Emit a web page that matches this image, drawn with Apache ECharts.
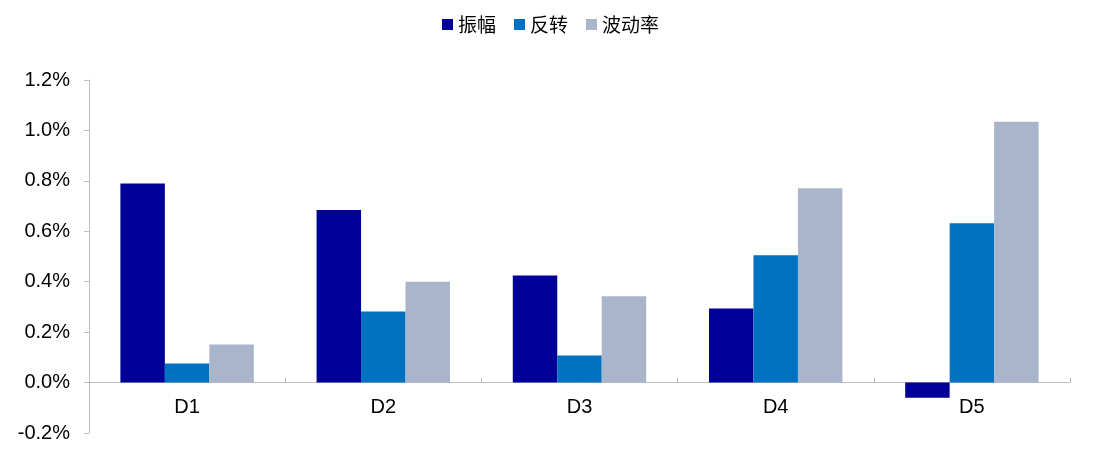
<!DOCTYPE html>
<html><head><meta charset="utf-8">
<script src="https://cdn.jsdelivr.net/npm/echarts@6/dist/echarts.min.js"></script>
<style>html,body{margin:0;padding:0;background:#fff}#c{width:1101px;height:456px}</style>
</head><body><div id="c"></div>
<script>
const categories = ['D1','D2','D3','D4','D5'];
const seriesNames = ['振幅','反转','波动率'];
const amplitude = [0.79, 0.684, 0.425, 0.294, -0.06];
const reversal = [0.076, 0.282, 0.107, 0.505, 0.632];
const volatility = [0.151, 0.40, 0.342, 0.771, 1.034];
const yTicks = {min:-0.2, max:1.2, step:0.2};
const colors = ['#000099','#0070C0','#A9B5CB'];
const font = '"Liberation Sans", Arial, sans-serif';
const gridTop = 80, gridBottom = 23, H = 456;
const plotH = H - gridTop - gridBottom;
const zeroOffset = -plotH * (0 - yTicks.min) / (yTicks.max - yTicks.min);
const chart = echarts.init(document.getElementById('c'));
chart.setOption({
  animation:false,
  color: colors,
  legend:{top:10,left:'center',itemWidth:11,itemHeight:11,itemGap:18,icon:'rect',
    textStyle:{fontSize:19,color:'#000',fontFamily:'"Noto Sans CJK SC", sans-serif'},
    data:seriesNames},
  grid:{left:89,right:31,top:gridTop,bottom:gridBottom,containLabel:false,outerBoundsMode:'none'},
  xAxis:{type:'category',data:categories,position:'bottom',offset:zeroOffset,
    axisLine:{onZero:false,lineStyle:{color:'#BFBFBF',width:1}},
    axisTick:{show:true,inside:true,length:5,lineStyle:{color:'#BFBFBF'}},
    axisLabel:{fontSize:20,color:'#000',fontFamily:font,margin:15}},
  yAxis:{type:'value',min:yTicks.min,max:yTicks.max,interval:yTicks.step,
    axisLine:{show:true,lineStyle:{color:'#BFBFBF'}},
    axisTick:{show:true,length:5,lineStyle:{color:'#BFBFBF'}},
    splitLine:{show:false},
    axisLabel:{fontSize:20,color:'#000',fontFamily:font,margin:19,
      formatter:v=>v.toFixed(1)+'%'}},
  series:[
    {name:seriesNames[0],type:'bar',data:amplitude,barGap:'0%',barCategoryGap:'32%'},
    {name:seriesNames[1],type:'bar',data:reversal,barGap:'0%',barCategoryGap:'32%'},
    {name:seriesNames[2],type:'bar',data:volatility,barGap:'0%',barCategoryGap:'32%'}
  ]
});
</script></body></html>
